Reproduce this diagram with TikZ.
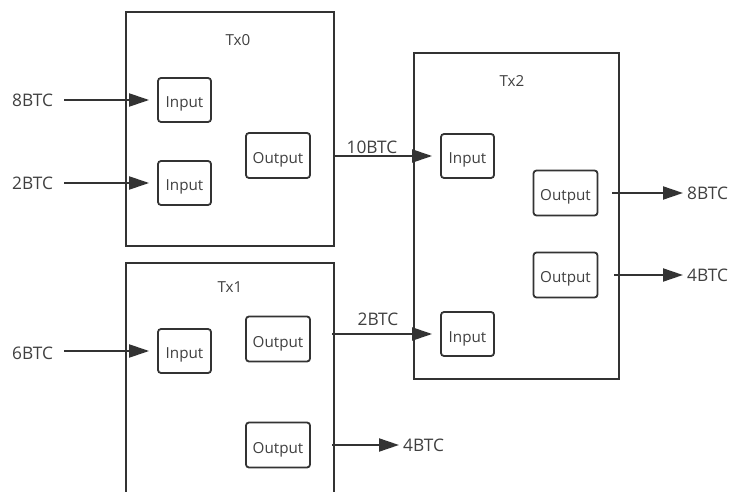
\documentclass[tikz,border=0pt]{standalone}
\usepackage{fontspec}
\setmainfont{Open Sans}
\usetikzlibrary{arrows.meta}
\definecolor{ink}{HTML}{333333}
\definecolor{txt}{HTML}{404040}
\tikzset{
  txbox/.style={draw=ink, line width=2pt, rectangle, inner sep=0pt},
  inbox/.style={draw=ink, line width=1.8pt, rounded corners=3pt, minimum width=53pt, minimum height=44pt, inner sep=0pt, text height=16pt, text depth=0pt, text=txt, font=\fontsize{15.2}{17}\selectfont},
  outbox/.style={inbox, minimum width=64pt, minimum height=45pt},
  title/.style={text=txt, font=\fontsize{15.2}{17}\selectfont, inner sep=0pt},
  amount/.style={text=txt, font=\fontsize{17.3}{19}\selectfont, inner sep=0pt},
  flow/.style={draw=ink, line width=2pt, -{Triangle[length=20pt,width=13pt]}},
}
\begin{document}
\begin{tikzpicture}[x=1pt,y=-1pt]
\useasboundingbox (0,0) rectangle (732,492);
\clip (0,0) rectangle (732,492);
\fill[white] (0,0) rectangle (732,492);
% transaction boxes
\node[txbox, minimum width=208pt, minimum height=234pt] (tx0) at (230,129) {};
\node[txbox, minimum width=208pt, minimum height=260pt] (tx1) at (230,393) {};
\node[txbox, minimum width=205pt, minimum height=326pt] (tx2) at (516.5,216) {};
\node[title] (t0) at (238,40) {Tx0};
\node[title] (t1) at (230,287) {Tx1};
\node[title] (t2) at (512,81) {Tx2};
% Tx0 contents
\node[inbox] (i01) at (184.5,100) {Input};
\node[inbox] (i02) at (184.5,183) {Input};
\node[outbox] (o0) at (278,155.5) {Output};
% Tx1 contents
\node[inbox] (i1) at (184.5,351) {Input};
\node[outbox] (o11) at (278,339) {Output};
\node[outbox] (o12) at (278,445) {Output};
% Tx2 contents
\node[inbox] (i21) at (467.5,156) {Input};
\node[inbox] (i22) at (467.5,334) {Input};
\node[outbox] (o21) at (565.5,193) {Output};
\node[outbox] (o22) at (565.5,275) {Output};
% amounts
\node[amount, anchor=west] (a8) at (12,100) {8BTC};
\node[amount, anchor=west] (a2) at (12,183) {2BTC};
\node[amount, anchor=west] (a6) at (12,353) {6BTC};
\node[amount] (a10) at (372,147) {10BTC};
\node[amount] (a2b) at (378,319) {2BTC};
\node[amount, anchor=west] (a4a) at (403,445) {4BTC};
\node[amount, anchor=west] (a8r) at (687,193) {8BTC};
\node[amount, anchor=west] (a4r) at (687,275) {4BTC};
% connectors
\draw[flow, shorten <=11pt, shorten >=8pt] (a8.east) -- (i01.west);
\draw[flow, shorten <=11pt, shorten >=8pt] (a2.east) -- (i02.west);
\draw[flow, shorten <=11pt, shorten >=8pt] (a6.east |- i1) -- (i1.west);
\draw[flow, shorten >=8pt] (tx0.east |- i21) -- (i21.west);
\draw[flow, shorten <=-3pt, shorten >=8pt] (tx1.east |- i22) -- (i22.west);
\draw[flow, shorten <=-3pt, shorten >=4pt] (tx1.east |- o12) -- (a4a.west);
\draw[flow, shorten <=-8pt, shorten >=4pt] (tx2.east |- o21) -- (a8r.west);
\draw[flow, shorten <=-6pt, shorten >=4pt] (tx2.east |- o22) -- (a4r.west);
\end{tikzpicture}
\end{document}
